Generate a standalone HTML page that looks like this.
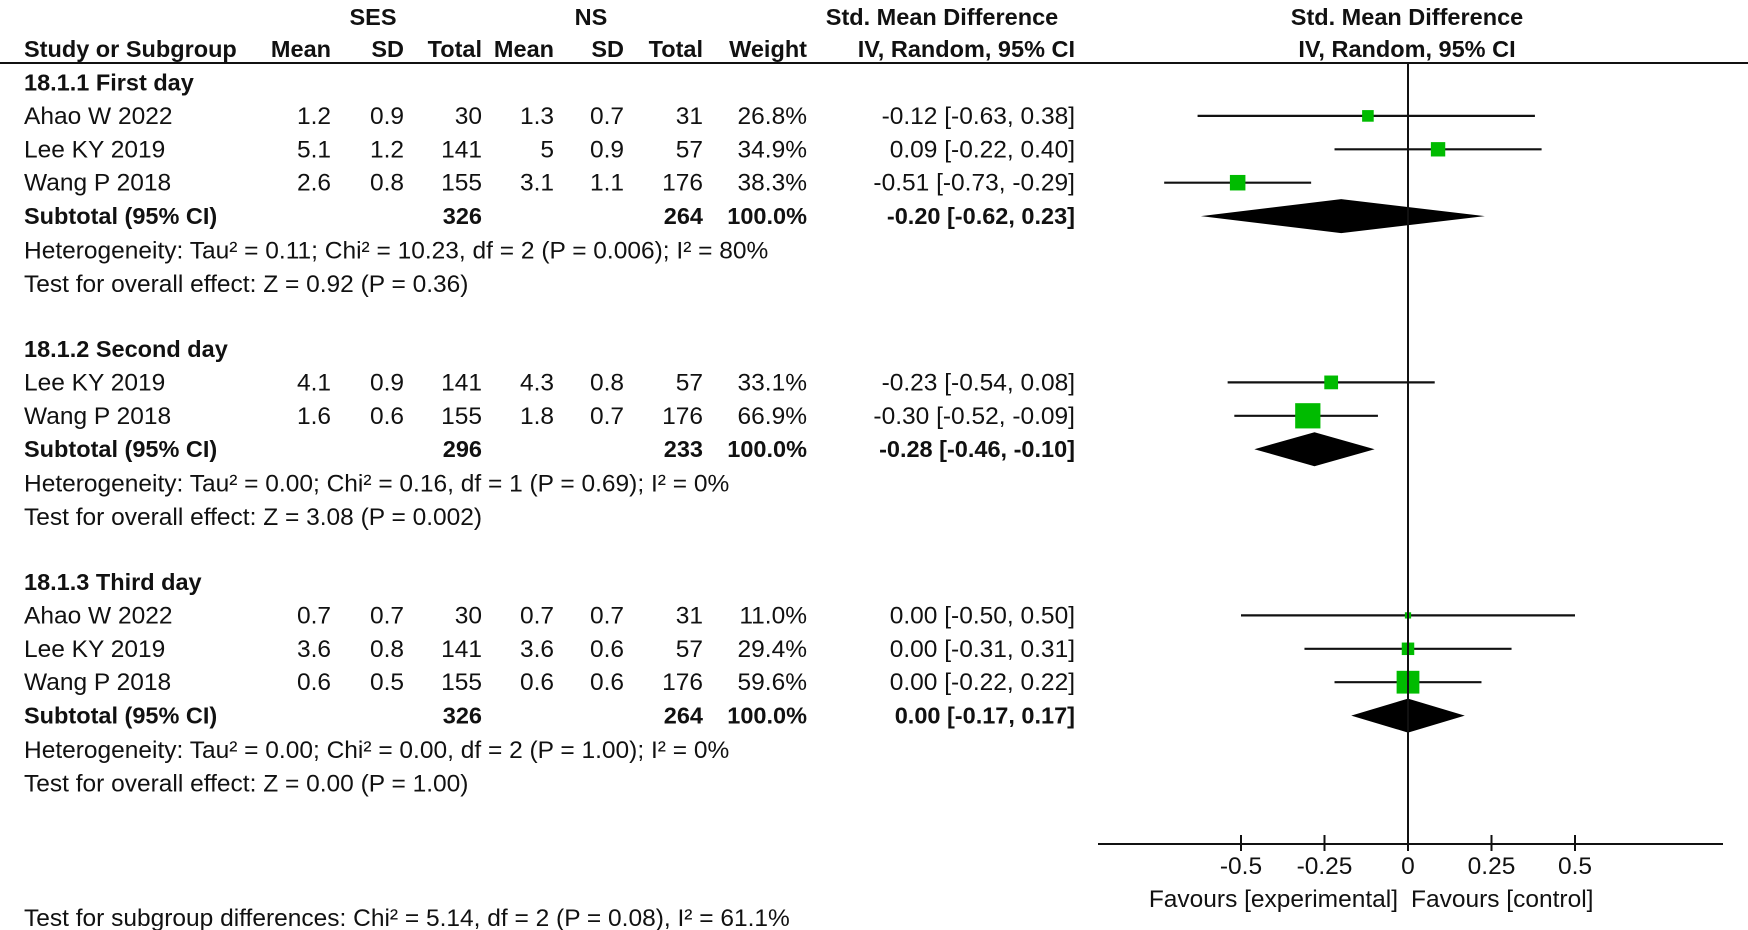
<!DOCTYPE html>
<html><head><meta charset="utf-8"><style>
html,body{margin:0;padding:0;background:#fff}
svg{display:block}
text{font-family:"Liberation Sans",Arial,sans-serif;font-size:24.5px;fill:#111}
.b{font-weight:bold;font-size:23.5px}
</style></head><body>
<svg id="plot" width="1748" height="930" viewBox="0 0 1748 930">
<g id="tbl"></g>
<g id="fp"></g>
</svg>
<script>
const studies=["Ahao W 2022","Lee KY 2019","Wang P 2018","Lee KY 2019","Wang P 2018","Ahao W 2022","Lee KY 2019","Wang P 2018"];
const groupOf=[0,0,0,1,1,2,2,2];
const sesMean=["1.2","5.1","2.6","4.1","1.6","0.7","3.6","0.6"];
const sesSD=["0.9","1.2","0.8","0.9","0.6","0.7","0.8","0.5"];
const sesN=["30","141","155","141","155","30","141","155"];
const nsMean=["1.3","5","3.1","4.3","1.8","0.7","3.6","0.6"];
const nsSD=["0.7","0.9","1.1","0.8","0.7","0.7","0.6","0.6"];
const nsN=["31","57","176","57","176","31","57","176"];
const weights=[26.8,34.9,38.3,33.1,66.9,11.0,29.4,59.6];
const est=[-0.12,0.09,-0.51,-0.23,-0.30,0.00,0.00,0.00];
const lo=[-0.63,-0.22,-0.73,-0.54,-0.52,-0.50,-0.31,-0.22];
const hi=[0.38,0.40,-0.29,0.08,-0.09,0.50,0.31,0.22];
const groupNames=["18.1.1 First day","18.1.2 Second day","18.1.3 Third day"];
const subSesN=["326","296","326"];
const subNsN=["264","233","264"];
const subEst=[-0.20,-0.28,0.00];
const subLo=[-0.62,-0.46,-0.17];
const subHi=[0.23,-0.10,0.17];
const hetText=["Heterogeneity: Tau² = 0.11; Chi² = 10.23, df = 2 (P = 0.006); I² = 80%","Heterogeneity: Tau² = 0.00; Chi² = 0.16, df = 1 (P = 0.69); I² = 0%","Heterogeneity: Tau² = 0.00; Chi² = 0.00, df = 2 (P = 1.00); I² = 0%"];
const testText=["Test for overall effect: Z = 0.92 (P = 0.36)","Test for overall effect: Z = 3.08 (P = 0.002)","Test for overall effect: Z = 0.00 (P = 1.00)"];
const ticks=[-0.5,-0.25,0,0.25,0.5];
const tickLabels=["-0.5","-0.25","0","0.25","0.5"];

const NS="http://www.w3.org/2000/svg";
const tbl=document.getElementById('tbl'), fp=document.getElementById('fp');
const X=v=>1408+v*334;
function T(p,x,y,s,anchor,bold,name){const t=document.createElementNS(NS,'text');t.setAttribute('x',x);t.setAttribute('y',y);t.setAttribute('text-anchor',anchor||'start');if(bold)t.setAttribute('class','b');t.textContent=s;


p.appendChild(t);return t;}
function E(p,tag,a,name){const e=document.createElementNS(NS,tag);for(const k in a)e.setAttribute(k,a[k]);


p.appendChild(e);return e;}
const f2=v=>(v<0?"-":"")+Math.abs(v).toFixed(2);
const ci=(e,l,h)=>f2(e)+" ["+f2(l)+", "+f2(h)+"]";
T(tbl,373,25,"SES","middle",1,"ses-header");T(tbl,591,25,"NS","middle",1,"ns-header");
T(tbl,942,25,"Std. Mean Difference","middle",1,"effect-header");T(tbl,1407,25,"Std. Mean Difference","middle",1,"plot-header");
T(tbl,24,57,"Study or Subgroup","start",1,"study-header");
[["Mean",331],["SD",404],["Total",482],["Mean",554],["SD",624],["Total",703],["Weight",807]].forEach(h=>T(tbl,h[1],57,h[0],"end",1,"column-header"));
T(tbl,1075,57,"IV, Random, 95% CI","end",1,"ci-header");T(tbl,1407,57,"IV, Random, 95% CI","middle",1,"plot-ci-header");
E(tbl,'line',{x1:0,y1:63,x2:1748,y2:63,stroke:'#111','stroke-width':2},"header-rule");
const gTop=[82.5,349,582], step=33.4;
for(let g=0;g<3;g++){
  const y0=gTop[g];
  T(tbl,24,y0+8,groupNames[g],"start",1,"subgroup-title");
  let r=0;
  for(let i=0;i<studies.length;i++){ if(groupOf[i]!==g)continue; r++;
    const y=y0+r*step, ty=y+8;
    T(tbl,24,ty,studies[i],"start",0,"study-name");
    T(tbl,331,ty,sesMean[i],"end",0,"ses-mean");T(tbl,404,ty,sesSD[i],"end",0,"ses-sd");T(tbl,482,ty,sesN[i],"end",0,"ses-total");
    T(tbl,554,ty,nsMean[i],"end",0,"ns-mean");T(tbl,624,ty,nsSD[i],"end",0,"ns-sd");T(tbl,703,ty,nsN[i],"end",0,"ns-total");
    T(tbl,807,ty,weights[i].toFixed(1)+"%","end",0,"weight");
    T(tbl,1075,ty,ci(est[i],lo[i],hi[i]),"end",0,"study-ci");
    E(fp,'line',{x1:X(lo[i]),y1:y,x2:X(hi[i]),y2:y,stroke:'#111','stroke-width':2.2},"ci-line");
    const s=2.5+0.34*weights[i];
    E(fp,'rect',{x:X(est[i])-s/2,y:y-s/2,width:s,height:s,fill:'#00bb00'},"study-marker");
  }
  r++; const ys=y0+r*step, ts=ys+8;
  T(tbl,24,ts,"Subtotal (95% CI)","start",1,"subtotal-label");
  T(tbl,482,ts,subSesN[g],"end",1,"subtotal-ses-total");T(tbl,703,ts,subNsN[g],"end",1,"subtotal-ns-total");
  T(tbl,807,ts,"100.0%","end",1,"subtotal-weight");T(tbl,1075,ts,ci(subEst[g],subLo[g],subHi[g]),"end",1,"subtotal-ci");
  E(fp,'polygon',{points:`${X(subLo[g])},${ys} ${X(subEst[g])},${ys-17} ${X(subHi[g])},${ys} ${X(subEst[g])},${ys+17}`,fill:'#000'},"subtotal-diamond");
  T(tbl,24,ys+step+9,hetText[g],"start",0,"heterogeneity-text");
  T(tbl,24,ys+2*step+9,testText[g],"start",0,"overall-effect-text");
}
T(tbl,24,926,"Test for subgroup differences: Chi² = 5.14, df = 2 (P = 0.08), I² = 61.1%","start",0,"subgroup-differences-text");
E(fp,'line',{x1:X(0),y1:63,x2:X(0),y2:844,stroke:'#111','stroke-width':2},"null-line");
E(fp,'line',{x1:1098,y1:844,x2:1723,y2:844,stroke:'#111','stroke-width':2},"x-axis");
ticks.forEach((v,i)=>{E(fp,'line',{x1:X(v),y1:835,x2:X(v),y2:851,stroke:'#111','stroke-width':2},"x-tick");
T(fp,X(v),874,tickLabels[i],"middle",0,"x-tick-label");});
T(fp,1398,907,"Favours [experimental]","end",0,"favours-experimental");
T(fp,1411,907,"Favours [control]","start",0,"favours-control");
</script>
</body></html>
